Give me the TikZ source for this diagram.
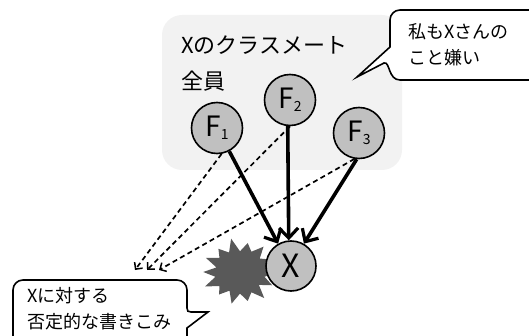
\documentclass[tikz,border=0pt]{standalone}
\usepackage{fontspec}
\setmainfont{Noto Sans CJK JP}
\usetikzlibrary{arrows.meta}
\definecolor{panelgray}{RGB}{242,242,242}
\definecolor{circgray}{RGB}{192,192,192}
\definecolor{stargray}{RGB}{89,89,89}
\tikzset{
  person/.style={circle,draw=black,line width=1.6pt,fill=circgray,minimum size=51pt,inner sep=0pt,font=\fontsize{28}{28}\selectfont},
  solidarr/.style={line width=3.6pt,-{Straight Barb[length=10pt,width=19pt,line width=3.2pt]}},
  dasharr/.style={line width=1.7pt,dash pattern=on 5pt off 3.5pt,-{Straight Barb[length=5pt,width=10pt,line width=1.5pt]}},
  bubble/.style={draw=black,line width=1.6pt,fill=white},
  btext/.style={inner sep=0pt,anchor=west,align=left,font=\fontsize{18}{26}\selectfont},
}
\newcommand{\sub}[1]{{\fontsize{14}{14}\selectfont\raisebox{-3pt}{#1}}}
\begin{document}
\begin{tikzpicture}[x=1pt,y=-1pt]
\useasboundingbox (0,0) rectangle (529,336);
% panel
\fill[panelgray,rounded corners=20pt] (162,15) rectangle (402,170);
\node[inner sep=0pt,anchor=west,align=left,font=\fontsize{22}{36}\selectfont] (lbl) at (181,64) {Xのクラスメート\\全員};
% top-right bubble
\draw[bubble] (390,47) -- (357,77) -- (384,63) .. controls (390,61) and (388,80) .. (400,80)
  -- (545,80) -- (545,10) [rounded corners=10pt] -- (390,10) [sharp corners] -- cycle;
\node[btext] (t1) at (408,45) {私もXさんの\\こと嫌い};
% starburst
\fill[stargray] (276,272)
  \foreach \a/\r in {12.86/24,25.71/34,38.57/23,51.43/37,64.29/25,77.14/33,90/24,102.86/36,115.71/23,128.57/32,141.43/25,154.29/37,167.14/24,180/35,192.86/23,205.71/36,218.57/25,231.43/33,244.29/24,257.14/38,270/23,282.86/33,295.71/25,308.57/36,321.43/24,334.29/32,347.14/25}
  { -- ({240+1.05*\r*cos(\a)},{272+0.9*\r*sin(\a)}) } -- cycle;
% people
\node[person] (F1) at (217,128) {F\sub{1}};
\node[person] (F2) at (290,100) {F\sub{2}};
\node[person] (F3) at (359,133) {F\sub{3}};
\node[person,minimum size=50pt,font=\fontsize{32}{32}\selectfont] (X) at (291,266) {X};
% endpoints of dashed arrows
\coordinate (e1) at (135,270);
\coordinate (e2) at (147,270);
\coordinate (e3) at (159,270);
\draw[dasharr] (F1.-80) -- (e1);
\draw[dasharr] (F2.south) -- (e2);
\draw[dasharr] (F3.-100) -- (e3);
% solid arrows
\draw[solidarr] (F1) -- (X.120);
\draw[solidarr] (F2.-95) -- (X.95);
\draw[solidarr] (F3.-95) -- (X.60);
% bottom-left bubble
\draw[bubble] (187,345) -- (187,328) -- (208,312) -- (191,312) .. controls (188,312) and (187,311) .. (187,308)
  [rounded corners=10pt] -- (187,280) -- (13,280) [sharp corners] -- (13,345) -- cycle;
\node[btext] (t2) at (27,309) {Xに対する\\否定的な書きこみ};
\end{tikzpicture}
\end{document}
